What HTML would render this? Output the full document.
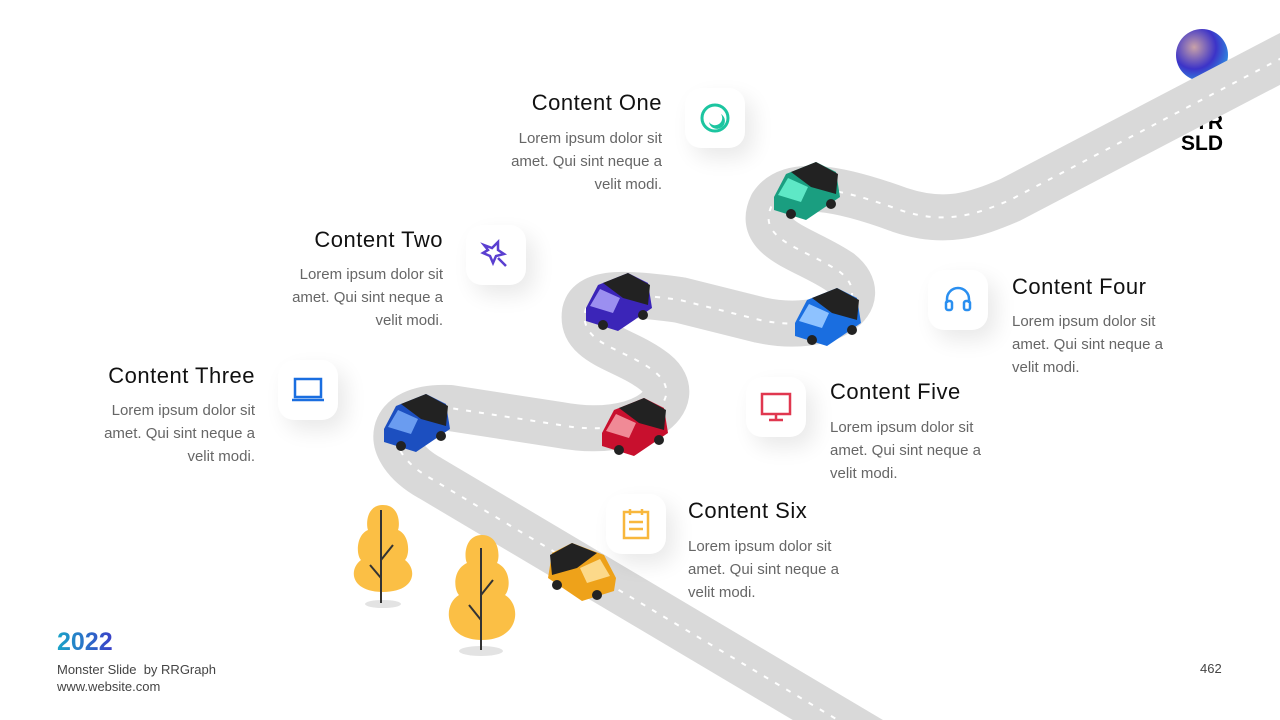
<!DOCTYPE html>
<html><head><meta charset="utf-8"><style>
body{margin:0;width:1280px;height:720px;overflow:hidden;background:#fff;font-family:"Liberation Sans",sans-serif;position:relative}
.t{position:absolute;font-size:22px;color:#111;letter-spacing:0.5px}
.b{position:absolute;font-size:15px;color:#666;line-height:23px;width:175px}
.r{text-align:right}
.box{position:absolute;width:60px;height:60px;background:#fff;border-radius:16px;box-shadow:8px 10px 22px rgba(0,0,0,0.09);display:flex;align-items:center;justify-content:center}
</style></head><body>
<div style="position:absolute;left:1181px;top:112px;font-weight:bold;font-size:21px;line-height:21px;text-align:right;width:42px">TR<br>SLD</div>
<svg width="1280" height="720" style="position:absolute;left:0;top:0">
<defs><radialGradient id="g" cx="0.35" cy="0.35" r="0.7"><stop offset="0" stop-color="#c9a2a8"/><stop offset="0.6" stop-color="#3c33c8"/><stop offset="1" stop-color="#2f8ae0"/></radialGradient></defs>
<circle cx="1202" cy="55" r="26" fill="url(#g)"/>
<path d="M 880 745 L 430 478 C 380 450, 385 405, 450 408 L 560 425 C 640 440, 690 400, 655 372 C 625 348, 580 345, 585 312 C 590 290, 630 293, 680 300 L 760 320 C 830 335, 875 300, 840 272 C 805 248, 755 240, 772 205 C 790 178, 840 188, 900 210 C 945 225, 975 215, 1010 200 L 1320 38" fill="none" stroke="#d9d9d9" stroke-width="46" stroke-linejoin="round"/>
<path d="M 880 745 L 430 478 C 380 450, 385 405, 450 408 L 560 425 C 640 440, 690 400, 655 372 C 625 348, 580 345, 585 312 C 590 290, 630 293, 680 300 L 760 320 C 830 335, 875 300, 840 272 C 805 248, 755 240, 772 205 C 790 178, 840 188, 900 210 C 945 225, 975 215, 1010 200 L 1320 38" fill="none" stroke="#fff" stroke-width="2" stroke-dasharray="5 8"/>
<ellipse cx="383" cy="604" rx="18" ry="4" fill="#e3e3e3"/>
<path d="M383 505 C400 505,400 525,398 530 C410 535,410 555,405 560 C418 570,415 592,383 592 C351 592,348 570,361 560 C356 555,356 535,368 530 C366 525,366 505,383 505Z" fill="#fbbf45"/>
<path d="M381 510 V603 M381 560 L393 545 M381 578 L370 565" stroke="#333" stroke-width="2" fill="none"/>
<ellipse cx="481" cy="651" rx="22" ry="5" fill="#e3e3e3"/>
<path d="M482 535 C500 535,500 558,497 563 C512 570,510 590,505 595 C522 605,520 640,482 640 C444 640,442 605,459 595 C454 590,452 570,467 563 C464 558,464 535,482 535Z" fill="#fbbf45"/>
<path d="M481 548 V650 M481 595 L493 580 M481 620 L469 605" stroke="#333" stroke-width="2" fill="none"/>
<g transform="translate(806,192)"><path d="M-32 5 L-20 -18 L10 -30 L30 -20 L34 5 L0 28 L-32 18Z" fill="#1a9e80"/><path d="M-15 -20 L10 -30 L32 -18 L30 2 L5 -5Z" fill="#222"/><path d="M-28 3 L-18 -14 L2 -5 L-5 10Z" fill="#5ee8c6"/><circle cx="-15" cy="22" r="5" fill="#222"/><circle cx="25" cy="12" r="5" fill="#222"/></g>
<g transform="translate(618,303)"><path d="M-32 5 L-20 -18 L10 -30 L30 -20 L34 5 L0 28 L-32 18Z" fill="#3b25b8"/><path d="M-15 -20 L10 -30 L32 -18 L30 2 L5 -5Z" fill="#222"/><path d="M-28 3 L-18 -14 L2 -5 L-5 10Z" fill="#9b8ff0"/><circle cx="-15" cy="22" r="5" fill="#222"/><circle cx="25" cy="12" r="5" fill="#222"/></g>
<g transform="translate(827,318)"><path d="M-32 5 L-20 -18 L10 -30 L30 -20 L34 5 L0 28 L-32 18Z" fill="#1a6ee0"/><path d="M-15 -20 L10 -30 L32 -18 L30 2 L5 -5Z" fill="#222"/><path d="M-28 3 L-18 -14 L2 -5 L-5 10Z" fill="#8ec2ff"/><circle cx="-15" cy="22" r="5" fill="#222"/><circle cx="25" cy="12" r="5" fill="#222"/></g>
<g transform="translate(416,424)"><path d="M-32 5 L-20 -18 L10 -30 L30 -20 L34 5 L0 28 L-32 18Z" fill="#1c4fc0"/><path d="M-15 -20 L10 -30 L32 -18 L30 2 L5 -5Z" fill="#222"/><path d="M-28 3 L-18 -14 L2 -5 L-5 10Z" fill="#6a9cf0"/><circle cx="-15" cy="22" r="5" fill="#222"/><circle cx="25" cy="12" r="5" fill="#222"/></g>
<g transform="translate(634,428)"><path d="M-32 5 L-20 -18 L10 -30 L30 -20 L34 5 L0 28 L-32 18Z" fill="#c8102e"/><path d="M-15 -20 L10 -30 L32 -18 L30 2 L5 -5Z" fill="#222"/><path d="M-28 3 L-18 -14 L2 -5 L-5 10Z" fill="#f08a96"/><circle cx="-15" cy="22" r="5" fill="#222"/><circle cx="25" cy="12" r="5" fill="#222"/></g>
<g transform="translate(582,573)"><path d="M34 5 L22 -18 L-10 -30 L-30 -20 L-34 5 L0 28 L32 18Z" fill="#eea21a"/><path d="M15 -20 L-10 -30 L-32 -18 L-30 2 L-5 -5Z" fill="#222"/><path d="M28 3 L18 -14 L-2 -5 L5 10Z" fill="#fcd98a"/><circle cx="15" cy="22" r="5" fill="#222"/><circle cx="-25" cy="12" r="5" fill="#222"/></g>
</svg>
<div class="box" style="left:685px;top:88px"><svg width="32" height="32"><circle cx="16" cy="16" r="13" fill="none" stroke="#1cc5a0" stroke-width="3"/><path d="M22 12 A8 8 0 1 1 10 20 A7 7 0 0 0 22 12Z" fill="#1cc5a0"/></svg></div>
<div class="box" style="left:466px;top:225px"><svg width="32" height="32"><path d="M4 6 L12 9 L18 3 L18 11 L24 15 L16 17 L13 24 L10 17 L3 14 L8 11Z M18 19 L26 27" fill="none" stroke="#5a3fd0" stroke-width="2.5"/></svg></div>
<div class="box" style="left:278px;top:360px"><svg width="36" height="32"><rect x="5" y="5" width="26" height="18" fill="none" stroke="#1a6ee0" stroke-width="2.5"/><path d="M2 26 H34" stroke="#1a6ee0" stroke-width="2.5"/></svg></div>
<div class="box" style="left:928px;top:270px"><svg width="32" height="32"><path d="M5 19 V15 A11 11 0 0 1 27 15 V19" fill="none" stroke="#2a8ff0" stroke-width="2.5"/><rect x="4" y="17" width="6" height="9" rx="2" fill="none" stroke="#2a8ff0" stroke-width="2.5"/><rect x="22" y="17" width="6" height="9" rx="2" fill="none" stroke="#2a8ff0" stroke-width="2.5"/></svg></div>
<div class="box" style="left:746px;top:377px"><svg width="34" height="34"><rect x="3" y="4" width="28" height="20" fill="none" stroke="#e0374f" stroke-width="2.5"/><path d="M17 24 V30 M10 30 H24" stroke="#e0374f" stroke-width="2.5"/></svg></div>
<div class="box" style="left:606px;top:494px"><svg width="32" height="34"><rect x="4" y="5" width="24" height="26" fill="none" stroke="#f8b73c" stroke-width="2.5"/><path d="M10 2 V8 M22 2 V8 M9 15 H23 M9 22 H23" stroke="#f8b73c" stroke-width="2.5"/></svg></div>
<div class="t r" style="left:400px;top:90px;width:262px">Content One</div>
<div class="b r" style="left:487px;top:127px">Lorem ipsum dolor sit amet. Qui sint neque a velit modi.</div>
<div class="t r" style="left:200px;top:227px;width:243px">Content Two</div>
<div class="b r" style="left:268px;top:263px">Lorem ipsum dolor sit amet. Qui sint neque a velit modi.</div>
<div class="t r" style="left:20px;top:363px;width:235px">Content Three</div>
<div class="b r" style="left:80px;top:399px">Lorem ipsum dolor sit amet. Qui sint neque a velit modi.</div>
<div class="t" style="left:1012px;top:274px">Content Four</div>
<div class="b" style="left:1012px;top:310px">Lorem ipsum dolor sit amet. Qui sint neque a velit modi.</div>
<div class="t" style="left:830px;top:379px">Content Five</div>
<div class="b" style="left:830px;top:416px">Lorem ipsum dolor sit amet. Qui sint neque a velit modi.</div>
<div class="t" style="left:688px;top:498px">Content Six</div>
<div class="b" style="left:688px;top:535px">Lorem ipsum dolor sit amet. Qui sint neque a velit modi.</div>
<div style="position:absolute;left:57px;top:628px;font-size:25px;font-weight:bold;background:linear-gradient(90deg,#1aa4c8,#3b3fc8);-webkit-background-clip:text;color:transparent">2022</div>
<div style="position:absolute;left:57px;top:661px;font-size:13px;color:#444;line-height:17px">Monster Slide &nbsp;by RRGraph<br>www.website.com</div>
<div style="position:absolute;left:1200px;top:661px;font-size:13px;color:#444">462</div>
</body></html>
